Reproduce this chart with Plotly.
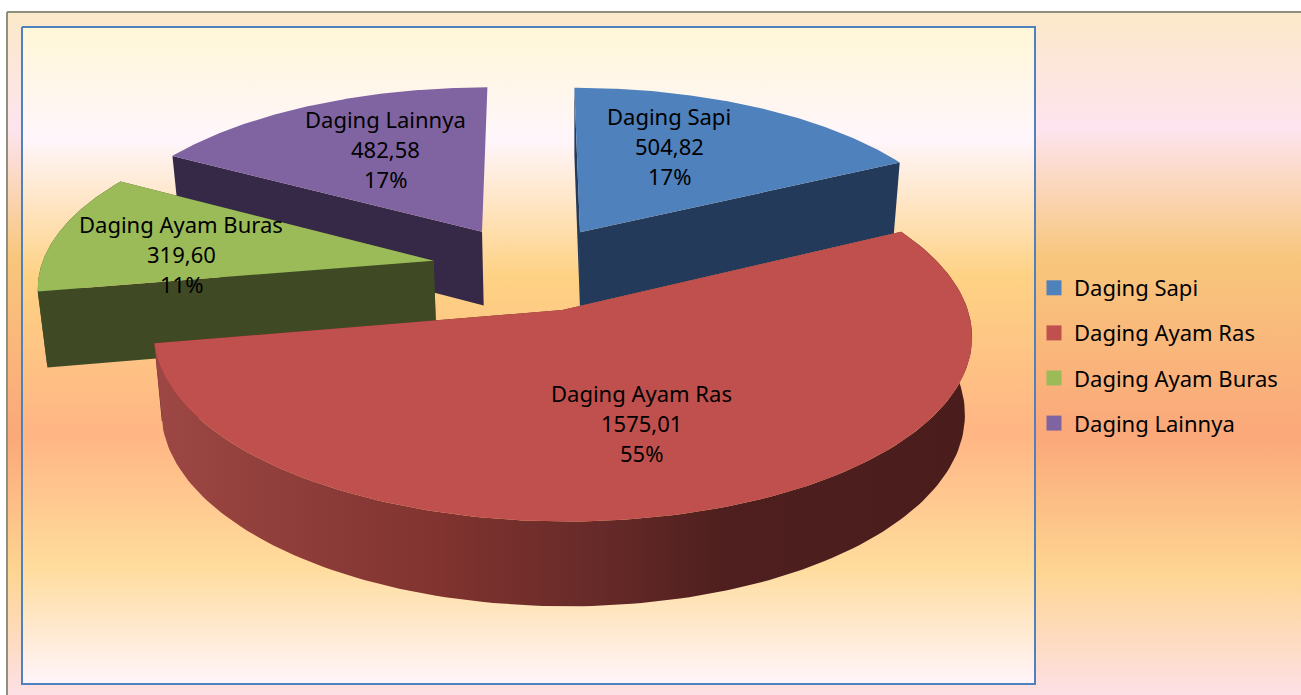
import numpy as np
import plotly.graph_objects as go

categories = ["Daging Sapi", "Daging Ayam Ras", "Daging Ayam Buras", "Daging Lainnya"]
values = [504.82, 1575.01, 319.60, 482.58]
value_labels = ["504,82", "1575,01", "319,60", "482,58"]
percent_labels = ["17%", "55%", "11%", "17%"]
top_colors = ["#4f81bd", "#c0504d", "#9bbb59", "#8064a2"]
wall_colors = ["#243a5a", "#6a2a28", "#3f4a25", "#362847"]
label_pos = [(669, 146), (641, 423), (181, 254), (385, 149)]

W, H = 1301, 695
CX, CY = 530, 268
A, B = 393, 172
P = 0.13
EXPLODE = 0.25
DEPTH = 75
SHRINK = 0.018
VX = 575
LINE_GAP = 30


def project(X, Y, Z=0.0):
    w = 1 + P * Y
    s = 1 - SHRINK * Z
    sx = CX + A * X / w
    return VX + (sx - VX) * s, CY - B * Y / w * s + Z * DEPTH / w


def slice_geometry(start, sweep):
    mid = start + sweep / 2
    ox, oy = EXPLODE * np.sin(mid), EXPLODE * np.cos(mid)
    th = np.linspace(start, start + sweep, 160)
    return ox, oy, ox + np.sin(th), oy + np.cos(th)


def rect(x0, y0, x1, y1):
    return [x0, x1, x1, x0, x0], [y0, y0, y1, y1, y0]


outer_scale = [[0, "#fbe9c8"], [0.17, "#fde4ef"], [0.36, "#f8c67c"], [0.62, "#fba87a"], [0.82, "#fed592"], [1, "#fde0e6"]]
inner_scale = [[0, "#fff7d6"], [0.17, "#fff6fc"], [0.38, "#fed284"], [0.62, "#ffb584"], [0.82, "#ffdc9c"], [1, "#fff5fb"]]

fig = go.Figure()
x, y = rect(7, 12, 1304, 698)
fig.add_trace(go.Scatter(x=x, y=y, mode="lines", fill="toself", line=dict(color="#8f8f80", width=2),
                         fillgradient=dict(type="vertical", colorscale=outer_scale, start=12, stop=695),
                         hoverinfo="skip", showlegend=False))
x, y = rect(22, 27, 1035, 684)
fig.add_trace(go.Scatter(x=x, y=y, mode="lines", fill="toself", line=dict(color="#4f81bd", width=2),
                         fillgradient=dict(type="vertical", colorscale=inner_scale, start=27, stop=684),
                         hoverinfo="skip", showlegend=False))

total = sum(values)
sweeps = [v / total * 2 * np.pi for v in values]
starts = list(np.cumsum([0] + sweeps[:-1]))
for i in [3, 0, 2, 1]:
    ox, oy, rx, ry = slice_geometry(starts[i], sweeps[i])
    # cut faces (the last one of the purple slice faces away from the viewer)
    for k in ((0,) if i == 3 else (0, -1)):
        xs0, ys0 = project(np.array([ox, rx[k]]), np.array([oy, ry[k]]), 0)
        xs1, ys1 = project(np.array([rx[k], ox]), np.array([ry[k], oy]), 1)
        fig.add_trace(go.Scatter(x=np.r_[xs0, xs1, xs0[0]], y=np.r_[ys0, ys1, ys0[0]], mode="lines", fill="toself",
                                 fillcolor=wall_colors[i], line=dict(width=0), hoverinfo="skip", showlegend=False))
    xt, yt = project(rx, ry, 0)
    # outer wall (only the two slices reaching the front of the pie show it)
    if i in (1, 2):
        xb, yb = project(rx, ry, 1)
        wall = dict(fillcolor=wall_colors[i])
        if i == 1:
            wall = dict(fillgradient=dict(type="horizontal", start=160, stop=965,
                                          colorscale=[[0, "#9c4744"], [0.35, "#80332f"], [0.55, "#662a28"], [0.7, "#4e1f1e"], [1, "#4a1d1c"]]))
        fig.add_trace(go.Scatter(x=np.r_[xt, xb[::-1], xt[0]], y=np.r_[yt, yb[::-1], yt[0]], mode="lines", fill="toself",
                                 line=dict(width=0), hoverinfo="skip", showlegend=False, **wall))
    # top face
    xa, ya = project(ox, oy, 0)
    fig.add_trace(go.Scatter(x=np.r_[xa, xt, xa], y=np.r_[ya, yt, ya], mode="lines", fill="toself",
                             fillcolor=top_colors[i], line=dict(width=0), hoverinfo="skip", showlegend=False))

for i, c in enumerate(categories):
    fig.add_trace(go.Scatter(x=[None], y=[None], mode="markers", name=c, legendgroup=c,
                             marker=dict(symbol="square", size=15, color=top_colors[i])))
    for j, line in enumerate((c, value_labels[i], percent_labels[i])):
        fig.add_annotation(x=label_pos[i][0], y=label_pos[i][1] + (j - 1) * LINE_GAP, xref="x", yref="y", showarrow=False,
                           text=line, font=dict(family="Noto Sans", size=22, color="#000000"),
                           xanchor="center", yanchor="middle")

fig.update_layout(
    width=W, height=H, margin=dict(l=0, r=0, t=0, b=0), paper_bgcolor="#ffffff", plot_bgcolor="#ffffff",
    xaxis=dict(range=[0, W], visible=False, fixedrange=True),
    yaxis=dict(range=[H, 0], visible=False, fixedrange=True),
    legend=dict(x=1034 / W, y=1 - 267 / H, xanchor="left", yanchor="top", bgcolor="rgba(0,0,0,0)",
                font=dict(family="Noto Sans", size=22, color="#000000"), tracegroupgap=13.5, traceorder="grouped"),
)
fig.write_html("out.html", config=dict(displayModeBar=False),
               post_script="document.body.style.margin='0';document.documentElement.style.overflow='hidden';")
